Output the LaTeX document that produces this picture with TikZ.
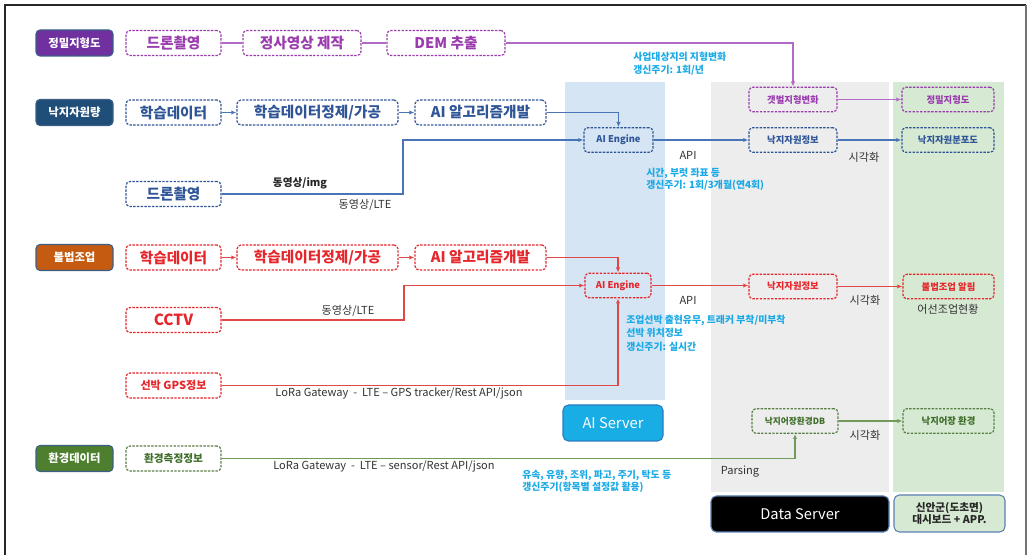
\documentclass[tikz,border=0pt]{standalone}
\usepackage{fontspec}
\setmainfont{Noto Sans CJK KR}
\usetikzlibrary{arrows.meta}
\definecolor{cPur}{HTML}{9A3BAE}
\definecolor{cPurLn}{HTML}{B36AC6}
\definecolor{cPurL}{HTML}{7030A0}
\definecolor{cBlu}{HTML}{2F5597}
\definecolor{cBluLn}{HTML}{4A74B8}
\definecolor{cBluL}{HTML}{1F4E79}
\definecolor{cRed}{HTML}{E5262B}
\definecolor{cRedLn}{HTML}{E04848}
\definecolor{cRedL}{HTML}{C55A11}
\definecolor{cGrn}{HTML}{3F6E2A}
\definecolor{cGrnBd}{HTML}{5A7F45}
\definecolor{cGrnLn}{HTML}{6F9A5A}
\definecolor{cGrnL}{HTML}{4E7F2F}
\definecolor{cCyan}{HTML}{19A9E6}
\definecolor{cTxt}{HTML}{333333}
\definecolor{labbd}{HTML}{3C5F86}
\definecolor{pAI}{HTML}{D5E5F3}
\definecolor{pGray}{HTML}{EDEDED}
\definecolor{pGrn}{HTML}{D6E9D3}
\definecolor{bAI}{HTML}{19ADE6}
\definecolor{bAIbd}{HTML}{2B7BBF}
\definecolor{bBd}{HTML}{5B80B4}
\begin{document}
\begin{tikzpicture}[x=0.75pt,y=-0.75pt,
  bw/.style={minimum width=#1*0.75pt},
  lab/.style={fill=#1, draw=labbd, rounded corners=3pt, line width=0.8pt,
    minimum width=57.75pt, minimum height=19.5pt, inner sep=0pt, text=white,
    font=\bfseries\fontsize{8.5}{10}\selectfont},
  box/.style={draw=#1, text=#1, dash pattern=on 1.8pt off 1pt, rounded corners=3pt,
    line width=0.9pt, minimum height=18.75pt, inner sep=0pt,
    font=\bfseries\fontsize{11}{13}\selectfont},
  sbox/.style={box=#1, minimum height=18.5pt, font=\bfseries\fontsize{7}{9}\selectfont},
  ln/.style={draw=#1, line width=0.9pt},
  arr/.style={ln=#1, -{Latex[length=3.8pt,width=3.2pt]}},
  gl/.style={text=cTxt, inner sep=0pt, font=\fontsize{8.3}{10}\selectfont},
  cy/.style={text=cCyan, inner sep=0pt, anchor=west, align=left,
    font=\bfseries\fontsize{7.4}{10}\selectfont},
  btn/.style={rounded corners=4pt, line width=0.8pt, inner sep=0pt}
]
\useasboundingbox (0,0) rectangle (1028,555);
% frame
\draw[line width=1.2pt, color=black!85] (5,556) -- (5,5) -- (1026,5);
\draw[line width=1pt, color=black!55] (1026,5) -- (1026,556);
% panels
\fill[pAI] (565,82) rectangle (665,400);
\fill[pGray] (711,82) rectangle (889,492);
\fill[pGrn] (893,82) rectangle (1004,492);
\node[btn, fill=bAI, draw=bAIbd, minimum width=75pt, minimum height=27pt, text=white,
  font=\fontsize{11}{13}\selectfont] (ais) at (613,423) {AI Server};
\node[btn, fill=black, draw=bBd, minimum width=133.5pt, minimum height=27pt, text=white,
  font=\fontsize{11}{13}\selectfont] (dss) at (800,514) {Data Server};
\node[btn, fill=pGrn, draw=bBd, minimum width=83.25pt, minimum height=27.75pt, text=black!85,
  align=center, font=\bfseries\fontsize{8}{9.5}\selectfont] (dash) at (949.5,513.5) {신안군(도초면)\\대시보드 + APP.};
% left labels
\node[lab=cPurL] (L1) at (74.5,43) {정밀지형도};
\node[lab=cBluL] (L2) at (74.5,112.5) {낙지자원량};
\node[lab=cRedL] (L3) at (74.5,257.5) {불법조업};
\node[lab=cGrnL] (L4) at (74.5,458.5) {환경데이터};
% row 1
\node[box=cPur, bw=95] (p1) at (173.5,43) {드론촬영};
\node[box=cPur, bw=118] (p2) at (302,43) {정사영상 제작};
\node[box=cPur, bw=118] (p3) at (446,43) {DEM 추출};
\node[sbox=cPur, bw=88] (p4) at (793,99.5) {갯벌지형변화};
\node[sbox=cPur, bw=92] (p5) at (948,99.5) {정밀지형도};
\draw[ln=cPurLn] (p1) -- (p2);
\draw[ln=cPurLn] (p2) -- (p3);
\draw[arr=cPurLn] (p3.east) -| (p4.north);
\draw[arr=cPurLn] (p4) -- (p5);
\node[cy] (c1) at (633,64) {사업대상지의 지형변화\\갱신주기: 1회/년};
% row 2
\node[box=cBlu, bw=95] (b1) at (173.5,112.5) {학습데이터};
\node[box=cBlu, bw=161] (b2) at (317.5,112.5) {학습데이터정제/가공};
\node[box=cBlu, bw=131] (b3) at (480.5,112.5) {AI 알고리즘개발};
\node[box=cBlu, bw=95] (b4) at (173.5,194) {드론촬영};
\node[sbox=cBlu, bw=69] (e2) at (618.5,140) {AI Engine};
\node[sbox=cBlu, bw=88] (i2) at (793,140) {낙지자원정보};
\node[sbox=cBlu, bw=92] (m2) at (948,140) {낙지자원분포도};
\coordinate (dk) at (403,140);
\draw[arr=cBluLn] (b1) -- (b2);
\draw[arr=cBluLn] (b2) -- (b3);
\draw[arr=cBluLn] (b3.east) -| (e2.north);
\draw[arr=cBluLn] (b4.east) -| (dk) -- (e2.west);
\draw[arr=cBluLn] (e2) -- (i2);
\draw[arr=cBluLn] (i2) -- (m2);
\node[gl, font=\bfseries\fontsize{8}{9}\selectfont, text=black!85] (t1) at (300,183) {동영상/img};
\node[gl] (t2) at (365,205) {동영상/LTE};
\node[gl] (t3) at (688,155) {API};
\node[gl] (t4) at (864,157) {시각화};
\node[cy, font=\bfseries\fontsize{7.4}{9}\selectfont] (c2) at (646,179) {시간, 부럿 좌표 등\\갱신주기: 1회/3개월(연4회)};
% row 3
\node[box=cRed, bw=95] (r1) at (173.5,257.5) {학습데이터};
\node[box=cRed, bw=161] (r2) at (317.5,257.5) {학습데이터정제/가공};
\node[box=cRed, bw=131] (r3) at (480.5,257.5) {AI 알고리즘개발};
\node[box=cRed, bw=95, font=\bfseries\fontsize{11.5}{13}\selectfont] (r4) at (173.5,320) {CCTV};
\node[box=cRed, bw=95, font=\bfseries\fontsize{8.3}{10}\selectfont] (r5) at (173.5,385.5) {선박 GPS정보};
\node[sbox=cRed, bw=66] (e3) at (618,285.5) {AI Engine};
\node[sbox=cRed, bw=88] (i3) at (793,286.5) {낙지자원정보};
\node[sbox=cRed, bw=91] (m3) at (948.5,286.5) {불법조업 알림};
\coordinate (ck) at (404,285.5);
\draw[arr=cRedLn] (r1) -- (r2);
\draw[arr=cRedLn] (r2) -- (r3);
\draw[arr=cRedLn] (r3.east) -| (e3.north);
\draw[arr=cRedLn] (r4.east) -| (ck) -- (e3.west);
\draw[arr=cRedLn] (r5.east) -| (e3.south);
\draw[arr=cRedLn] (e3.east) -- (i3.west |- e3.east);
\draw[arr=cRedLn] (i3) -- (m3);
\node[gl] (t5) at (348,311) {동영상/LTE};
\node[gl] (t6) at (399,393) {LoRa Gateway\ \ -\ \ LTE – GPS tracker/Rest API/json};
\node[gl] (t7) at (688,300) {API};
\node[gl] (t8) at (865,300) {시각화};
\node[gl] (t9) at (948,309) {어선조업현황};
\node[cy] (c3) at (626,333) {조업선박 출현유무, 트래커 부착/미부착\\선박 위치정보\\갱신주기: 실시간};
% row 4
\node[box=cGrnBd, text=cGrn, bw=95, font=\bfseries\fontsize{8}{9}\selectfont] (g1) at (173.5,458.5) {환경측정정보};
\node[sbox=cGrnBd, text=cGrn, bw=86, font=\bfseries\fontsize{6.5}{8}\selectfont] (g2) at (795,421) {낙지어장환경DB};
\node[sbox=cGrnBd, text=cGrn, bw=91] (g3) at (948.5,421) {낙지어장 환경};
\draw[arr=cGrnLn] (g1.east) -| (g2.south);
\draw[arr=cGrnLn] (g2) -- (g3);
\node[gl] (t10) at (384,466) {LoRa Gateway\ \ -\ \ LTE – sensor/Rest API/json};
\node[gl] (t11) at (865,435) {시각화};
\node[gl] (t12) at (740,472) {Parsing};
\node[cy, font=\bfseries\fontsize{7.4}{9}\selectfont] (c4) at (522,481) {유속, 유향, 조위, 파고, 주기, 탁도 등\\갱신주기(항목별 설정값 활용)};
\end{tikzpicture}
\end{document}
